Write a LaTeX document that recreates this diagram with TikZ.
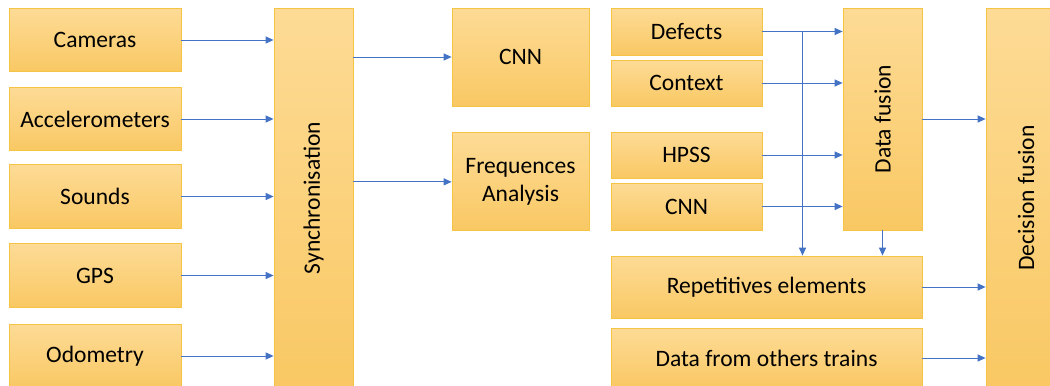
\documentclass[tikz,border=0pt]{standalone}
\usepackage{fontspec}
\setmainfont{Carlito}
\usetikzlibrary{arrows.meta, positioning, calc}
\definecolor{boxtop}{HTML}{FDDB96}
\definecolor{boxbot}{HTML}{F9C863}
\definecolor{boxline}{HTML}{F6C445}
\definecolor{arrblue}{HTML}{4472C4}
\tikzset{
  %% Process block
  blk/.style={
    rectangle, draw=boxline, line width=0.5pt,
    top color=boxtop, bottom color=boxbot,
    text centered, align=center,
    font=\fontsize{13.4}{16}\selectfont,
    inner sep=2pt
  },
  %% Sensor block (left column)
  sensor/.style={blk, minimum width=3.44cm, minimum height=1.27cm},
  %% Tall vertical block
  tall/.style={blk, minimum width=1.58cm},
  %% Arrow
  arr/.style={-{Triangle[length=4.5pt,width=4pt]},
              draw=arrblue, line width=0.5pt},
}

\begin{document}
\begin{tikzpicture}[x=0.02cm, y=-0.02cm]

  \useasboundingbox (0,0) rectangle (1050,385);

  %% sensors
  \node[sensor] (cam) at (95,40) {Cameras};
  \node[sensor] (acc) at (95,119) {Accelerometers};
  \node[sensor] (snd) at (95,196.5) {Sounds};
  \node[sensor] (gps) at (95,275.5) {GPS};
  \node[sensor] (odo) at (95,356) {Odometry};

  \node[tall, minimum height=7.6cm] (sync) at (313.5,198)
       {\rotatebox{90}{Synchronisation}};

  %% analysis
  \node[blk, minimum width=2.74cm, minimum height=1.96cm]
       (cnna) at (520.5,57) {CNN};
  \node[blk, minimum width=2.74cm, minimum height=1.96cm,
        below=0.52cm of cnna] (freq) {Frequences\\Analysis};

  %% features
  \node[blk, minimum width=3.02cm, minimum height=0.94cm]
       (def) at (686.5,31.5) {Defects};
  \node[blk, minimum width=3.02cm, minimum height=0.92cm]
       (ctx) at (686.5,83) {Context};
  \node[blk, minimum width=3.02cm, minimum height=0.92cm]
       (hpss) at (686.5,155) {HPSS};
  \node[blk, minimum width=3.02cm, minimum height=0.94cm]
       (cnnb) at (686.5,206.5) {CNN};

  \node[tall, minimum height=4.44cm] (dfus) at (882.5,119)
       {\rotatebox{90}{Data fusion}};

  \node[blk, minimum width=6.22cm, minimum height=1.24cm]
       (rep) at (766.5,287) {Repetitives elements};
  \node[blk, minimum width=6.22cm, minimum height=1.18cm]
       (oth) at (766.5,358) {Data from others trains};

  \node[tall, minimum width=1.6cm, minimum height=7.6cm]
       (dec) at (1026,198) {\rotatebox{90}{Decision fusion}};

  %% connectors
  \foreach \s in {cam,acc,snd,gps,odo}
    \draw[arr] (\s.east) -- (\s.east -| sync.west);
  \draw[arr] (cnna.west -| sync.east) -- (cnna.west);
  \draw[arr] (freq.west -| sync.east) -- (freq.west);
  \foreach \s in {def,ctx,hpss,cnnb}
    \draw[arr] (\s.east) -- (\s.east -| dfus.west);
  \coordinate (split) at ($(def.east)!0.5!(def.east -| dfus.west)$);
  \draw[arr] (split) -- (split |- rep.north);
  \draw[arr] (dfus.south) -- (dfus.south |- rep.north);
  \draw[arr] (dfus.east) -- (dfus.east -| dec.west);
  \draw[arr] (rep.east) -- (rep.east -| dec.west);
  \draw[arr] (oth.east) -- (oth.east -| dec.west);

\end{tikzpicture}
\end{document}
